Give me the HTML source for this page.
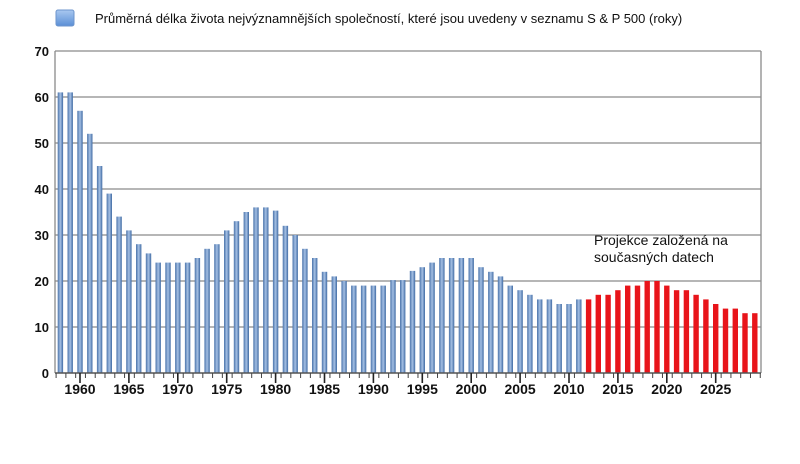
<!DOCTYPE html>
<html><head><meta charset="utf-8"><style>
html,body{margin:0;padding:0;background:#fff;}
svg{display:block;font-family:"Liberation Sans",Arial,sans-serif;}
</style></head><body>
<svg width="800" height="464" viewBox="0 0 800 464" xmlns="http://www.w3.org/2000/svg">
<defs>
<linearGradient id="gb" x1="0" x2="1" y1="0" y2="0">
<stop offset="0" stop-color="#4a73aa"/><stop offset="0.5" stop-color="#a5c0e4"/><stop offset="1" stop-color="#3f6aa3"/>
</linearGradient>
<linearGradient id="gl" x1="0" x2="0" y1="0" y2="1">
<stop offset="0" stop-color="#a9c8f0"/><stop offset="1" stop-color="#5b8fd6"/>
</linearGradient>
</defs>
<rect x="56" y="10" width="18" height="16" rx="2" fill="url(#gl)" stroke="#6d95cc"/>
<text x="95" y="23" font-size="13" fill="#111">Průměrná délka života nejvýznamnějších společností, které jsou uvedeny v seznamu S &amp; P 500 (roky)</text>
<g stroke="#8a8a8a" stroke-width="1.3">
<line x1="55" y1="51" x2="761" y2="51"/>
<line x1="55" y1="97" x2="761" y2="97"/>
<line x1="55" y1="143" x2="761" y2="143"/>
<line x1="55" y1="189" x2="761" y2="189"/>
<line x1="55" y1="235" x2="761" y2="235"/>
<line x1="55" y1="281" x2="761" y2="281"/>
<line x1="55" y1="327" x2="761" y2="327"/>
<line x1="55" y1="51" x2="55" y2="373"/>
<line x1="761" y1="51" x2="761" y2="373"/>
</g>
<g font-size="13" font-weight="bold" text-anchor="end" fill="#111">
<text x="49" y="56">70</text><text x="49" y="102">60</text><text x="49" y="148">50</text><text x="49" y="194">40</text><text x="49" y="240">30</text><text x="49" y="286">20</text><text x="49" y="332">10</text><text x="49" y="378">0</text>
</g>
<g transform="translate(0,373) scale(1,-4.6)" fill="url(#gb)">
<rect x="57.7" y="0" width="5.4" height="61"/>
<rect x="67.5" y="0" width="5.4" height="61"/>
<rect x="77.3" y="0" width="5.4" height="57"/>
<rect x="87.1" y="0" width="5.4" height="52"/>
<rect x="96.9" y="0" width="5.4" height="45"/>
<rect x="106.6" y="0" width="5.4" height="39"/>
<rect x="116.4" y="0" width="5.4" height="34"/>
<rect x="126.2" y="0" width="5.4" height="31"/>
<rect x="136.0" y="0" width="5.4" height="28"/>
<rect x="145.8" y="0" width="5.4" height="26"/>
<rect x="155.5" y="0" width="5.4" height="24"/>
<rect x="165.3" y="0" width="5.4" height="24"/>
<rect x="175.1" y="0" width="5.4" height="24"/>
<rect x="184.9" y="0" width="5.4" height="24"/>
<rect x="194.7" y="0" width="5.4" height="25"/>
<rect x="204.4" y="0" width="5.4" height="27"/>
<rect x="214.2" y="0" width="5.4" height="28"/>
<rect x="224.0" y="0" width="5.4" height="31"/>
<rect x="233.8" y="0" width="5.4" height="33"/>
<rect x="243.6" y="0" width="5.4" height="35"/>
<rect x="253.3" y="0" width="5.4" height="36"/>
<rect x="263.1" y="0" width="5.4" height="36"/>
<rect x="272.9" y="0" width="5.4" height="35.3"/>
<rect x="282.7" y="0" width="5.4" height="32"/>
<rect x="292.5" y="0" width="5.4" height="30"/>
<rect x="302.2" y="0" width="5.4" height="27"/>
<rect x="312.0" y="0" width="5.4" height="25"/>
<rect x="321.8" y="0" width="5.4" height="22"/>
<rect x="331.6" y="0" width="5.4" height="21"/>
<rect x="341.4" y="0" width="5.4" height="20"/>
<rect x="351.1" y="0" width="5.4" height="19"/>
<rect x="360.9" y="0" width="5.4" height="19"/>
<rect x="370.7" y="0" width="5.4" height="19"/>
<rect x="380.5" y="0" width="5.4" height="19"/>
<rect x="390.3" y="0" width="5.4" height="20.2"/>
<rect x="400.0" y="0" width="5.4" height="20.2"/>
<rect x="409.8" y="0" width="5.4" height="22.2"/>
<rect x="419.6" y="0" width="5.4" height="23"/>
<rect x="429.4" y="0" width="5.4" height="24"/>
<rect x="439.2" y="0" width="5.4" height="25"/>
<rect x="448.9" y="0" width="5.4" height="25"/>
<rect x="458.7" y="0" width="5.4" height="25"/>
<rect x="468.5" y="0" width="5.4" height="25"/>
<rect x="478.3" y="0" width="5.4" height="23"/>
<rect x="488.1" y="0" width="5.4" height="22"/>
<rect x="497.8" y="0" width="5.4" height="21"/>
<rect x="507.6" y="0" width="5.4" height="19"/>
<rect x="517.4" y="0" width="5.4" height="18"/>
<rect x="527.2" y="0" width="5.4" height="17"/>
<rect x="537.0" y="0" width="5.4" height="16"/>
<rect x="546.7" y="0" width="5.4" height="16"/>
<rect x="556.5" y="0" width="5.4" height="15"/>
<rect x="566.3" y="0" width="5.4" height="15"/>
<rect x="576.1" y="0" width="5.4" height="16"/>
</g>
<g transform="translate(0,373) scale(1,-4.6)" fill="#e8141a">
<rect x="585.9" y="0" width="5.4" height="16"/>
<rect x="595.6" y="0" width="5.4" height="17"/>
<rect x="605.4" y="0" width="5.4" height="17"/>
<rect x="615.2" y="0" width="5.4" height="18"/>
<rect x="625.0" y="0" width="5.4" height="19"/>
<rect x="634.8" y="0" width="5.4" height="19"/>
<rect x="644.5" y="0" width="5.4" height="20"/>
<rect x="654.3" y="0" width="5.4" height="20"/>
<rect x="664.1" y="0" width="5.4" height="19"/>
<rect x="673.9" y="0" width="5.4" height="18"/>
<rect x="683.7" y="0" width="5.4" height="18"/>
<rect x="693.4" y="0" width="5.4" height="17"/>
<rect x="703.2" y="0" width="5.4" height="16"/>
<rect x="713.0" y="0" width="5.4" height="15"/>
<rect x="722.8" y="0" width="5.4" height="14"/>
<rect x="732.6" y="0" width="5.4" height="14"/>
<rect x="742.3" y="0" width="5.4" height="13"/>
<rect x="752.1" y="0" width="5.4" height="13"/>
</g>
<line x1="55" y1="373" x2="761" y2="373" stroke="#555" stroke-width="1.5"/>
<line x1="55.6" y1="375.5" x2="761" y2="375.5" stroke="#444" stroke-width="5" stroke-dasharray="1 8.78"/>
<path d="M80 373V383M128.9 373V383M177.8 373V383M226.7 373V383M275.6 373V383M324.5 373V383M373.4 373V383M422.3 373V383M471.2 373V383M520.1 373V383M569 373V383M617.9 373V383M666.8 373V383M715.7 373V383" stroke="#222" stroke-width="1.6"/>
<g font-size="14" font-weight="bold" text-anchor="middle" fill="#111">
<text x="80" y="394">1960</text><text x="128.9" y="394">1965</text><text x="177.8" y="394">1970</text><text x="226.7" y="394">1975</text><text x="275.6" y="394">1980</text><text x="324.5" y="394">1985</text><text x="373.4" y="394">1990</text><text x="422.3" y="394">1995</text><text x="471.2" y="394">2000</text><text x="520.1" y="394">2005</text><text x="569" y="394">2010</text><text x="617.9" y="394">2015</text><text x="666.8" y="394">2020</text><text x="715.7" y="394">2025</text>
</g>
<text x="594" y="245" font-size="14" fill="#111">Projekce založená na</text>
<text x="594" y="262" font-size="14" fill="#111">současných datech</text>
</svg>
</body></html>
